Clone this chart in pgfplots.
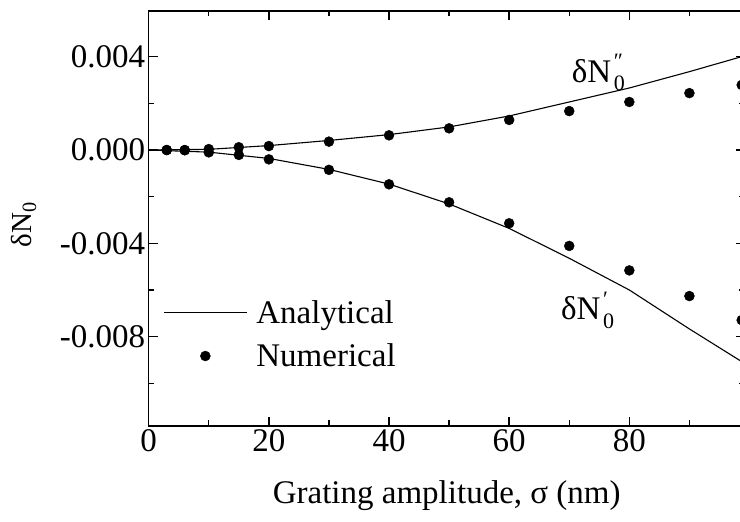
\documentclass[border=0pt]{standalone}
\usepackage{fontspec}
\setmainfont{Liberation Serif}
\usepackage{pgfplots}
\pgfplotsset{compat=1.18}
\newcommand{\bigf}{\fontsize{33}{39}\selectfont}
\newcommand{\smallf}{\fontsize{22}{22}\selectfont}
\newcommand{\dN}[1]{δN\hspace{0.08em}\rlap{\raisebox{-0.25em}{\smallf 0}}\raisebox{0.42em}{\smallf #1}}
\begin{document}
\begin{tikzpicture}
\useasboundingbox (-148.7pt,-96pt) rectangle (591.3pt,426pt);
\clip (-148.7pt,-96pt) rectangle (591.3pt,426pt);
\begin{axis}[
  scale only axis, width=596pt, height=415pt,
  xmin=0, xmax=99.2, ymin=-0.01183, ymax=0.00596,
  xtick={0,20,40,60,80}, xticklabels={0,20,40,60,80},
  minor xtick={10,30,50,70,90},
  ytick={-0.008,-0.004,0,0.004}, yticklabels={-0.008,-0.004,0.000,0.004},
  minor ytick={-0.01,-0.006,-0.002,0.002},
  scaled y ticks=false, scaled x ticks=false,
  tick align=inside, xtick pos=both, ytick pos=both,
  major tick length=9pt, minor tick length=5.5pt,
  axis line style={line width=1.4pt},
  every tick/.style={black, line width=1.4pt},
  tick label style={font=\bigf},
  xlabel={Grating amplitude, σ (nm)},
  ylabel={δN\textsubscript{0}},
  label style={font=\bigf},
  xlabel style={yshift=-22pt},
  ylabel style={font=\fontsize{29}{33}\selectfont, at={(axis description cs:-0.21,0.485)}, anchor=center},
  legend style={draw=none, fill=none, font=\bigf, at={(axis cs:2.4,-0.0079)}, anchor=west,
    inner sep=0pt, row sep=19pt, column sep=9pt, nodes={inner sep=0pt}},
  legend cell align=left,
]
\addplot[black, line width=1.1pt,
  legend image code/.code={\draw[black,line width=1.1pt] (0pt,0pt) -- (83pt,0pt);}]
  coordinates {(0,0) (10,0.00003) (20,0.00019) (30,0.00041) (40,0.00066) (50,0.00099)
   (60,0.00146) (70,0.00206) (80,0.00266) (90,0.00336) (99.2,0.00404)};
\addlegendentry{Analytical}
\addplot[black, line width=1.1pt, forget plot]
  coordinates {(0,0) (10,-0.00009) (20,-0.00036) (30,-0.00083) (40,-0.00146) (50,-0.00231)
   (60,-0.00336) (70,-0.00464) (80,-0.0060) (90,-0.00767) (99.2,-0.00915)};
\addplot[only marks, mark=*, mark size=5pt, black,
  legend image code/.code={\path (0pt,0pt) (83pt,0pt); \draw[black, mark=*, mark size=5pt, only marks] plot coordinates {(41.5pt,0pt)};}]
  coordinates {(3,0) (6,0) (10,0.00004) (15,0.00012) (20,0.00017) (30,0.00036) (40,0.00063)
   (50,0.00093) (60,0.00129) (70,0.00167) (80,0.00206) (90,0.00244) (98.7,0.00279)};
\addlegendentry{Numerical}
\addplot[only marks, mark=*, mark size=5pt, black, forget plot]
  coordinates {(3,0) (6,-0.00001) (10,-0.0001) (15,-0.00021) (20,-0.0004) (30,-0.00085) (40,-0.00147)
   (50,-0.00224) (60,-0.00314) (70,-0.00411) (80,-0.00516) (90,-0.00626) (98.7,-0.00729)};
\node[anchor=base west, font=\bigf, inner sep=0pt] at (axis cs:70.4,0.002914) {\dN{″}};
\node[anchor=base west, font=\bigf, inner sep=0pt] at (axis cs:68.6,-0.007286) {\dN{′}};
\end{axis}
\end{tikzpicture}
\end{document}
